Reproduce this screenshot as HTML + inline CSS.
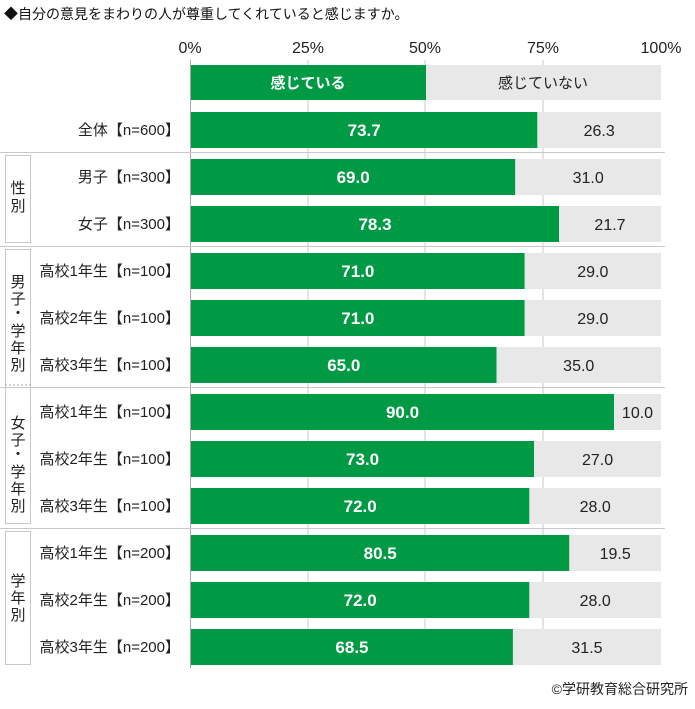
<!DOCTYPE html>
<html><head><meta charset="utf-8"><style>
body{margin:0;background:#fff}
text{font-family:"Liberation Sans","Noto Sans CJK JP",sans-serif}
</style></head><body>
<svg width="695" height="704" xmlns="http://www.w3.org/2000/svg">
<text x="4" y="19" font-size="14" fill="#111">◆自分の意見をまわりの人が尊重してくれていると感じますか。</text>
<g font-size="16" fill="#222" text-anchor="middle">
<text x="190" y="53">0%</text><text x="308" y="53">25%</text><text x="425" y="53">50%</text><text x="543" y="53">75%</text><text x="661" y="53">100%</text>
</g>
<g stroke="#c8c8c8" stroke-width="1">
<line x1="308" y1="60" x2="308" y2="664"/><line x1="425" y1="60" x2="425" y2="664"/><line x1="543" y1="60" x2="543" y2="664"/>
<line x1="190.5" y1="60" x2="190.5" y2="668" stroke="#aaa"/>
<line x1="0" y1="152.5" x2="665" y2="152.5"/>
<line x1="0" y1="246.5" x2="665" y2="246.5"/>
<line x1="0" y1="387.5" x2="665" y2="387.5"/>
<line x1="0" y1="528.5" x2="665" y2="528.5"/>
</g>
<g fill="none" stroke="#c8c8c8">
<rect x="5.5" y="155.5" width="25" height="87"/>
<rect x="5.5" y="249.5" width="25" height="274"/>
<rect x="5.5" y="531.5" width="25" height="133"/>
</g>
<line x1="5" y1="385" x2="31" y2="385" stroke="#aaa" stroke-dasharray="2,2"/>
<g font-size="15" fill="#222" text-anchor="middle">
<text x="18" y="193">性</text><text x="18" y="211">別</text>
<text x="18" y="287">男</text><text x="18" y="304">子</text><text x="18" y="318">・</text><text x="18" y="336">学</text><text x="18" y="353">年</text><text x="18" y="370">別</text>
<text x="18" y="428">女</text><text x="18" y="445">子</text><text x="18" y="459">・</text><text x="18" y="477">学</text><text x="18" y="494">年</text><text x="18" y="511">別</text>
<text x="18" y="586">学</text><text x="18" y="603">年</text><text x="18" y="620">別</text>
</g>
<rect x="191" y="65" width="235" height="35" fill="#009a44"/>
<rect x="426" y="65" width="235" height="35" fill="#e8e8e8"/>
<text x="308" y="88" font-size="15" font-weight="bold" fill="#fff" text-anchor="middle">感じている</text>
<text x="543" y="88" font-size="15" fill="#222" text-anchor="middle">感じていない</text>
<g id="rows"></g>
<text x="688" y="694" font-size="14" fill="#222" text-anchor="end">©学研教育総合研究所</text>
</svg>
<script>
var d=[["全体【n=600】",73.7,"26.3"],["男子【n=300】",69.0,"31.0"],["女子【n=300】",78.3,"21.7"],["高校1年生【n=100】",71.0,"29.0"],["高校2年生【n=100】",71.0,"29.0"],["高校3年生【n=100】",65.0,"35.0"],["高校1年生【n=100】",90.0,"10.0"],["高校2年生【n=100】",73.0,"27.0"],["高校3年生【n=100】",72.0,"28.0"],["高校1年生【n=200】",80.5,"19.5"],["高校2年生【n=200】",72.0,"28.0"],["高校3年生【n=200】",68.5,"31.5"]];
var s="";d.forEach(function(r,i){var y=112+i*47,w=r[1]/100*470,x2=191+w;
s+='<rect x="191" y="'+y+'" width="'+w+'" height="36" fill="#009a44"/>';
s+='<rect x="'+x2+'" y="'+y+'" width="'+(661-x2)+'" height="36" fill="#e8e8e8"/>';
s+='<text x="'+(191+w/2)+'" y="'+(y+24)+'" font-size="17" font-weight="bold" fill="#fff" text-anchor="middle">'+r[1].toFixed(1)+'</text>';
s+='<text x="'+((x2+661)/2)+'" y="'+(y+24)+'" font-size="16" fill="#222" text-anchor="middle">'+r[2]+'</text>';
s+='<text x="180" y="'+(y+23)+'" font-size="15" fill="#222" text-anchor="end">'+r[0]+'</text>';});
document.getElementById("rows").innerHTML=s;
</script>
</body></html>
